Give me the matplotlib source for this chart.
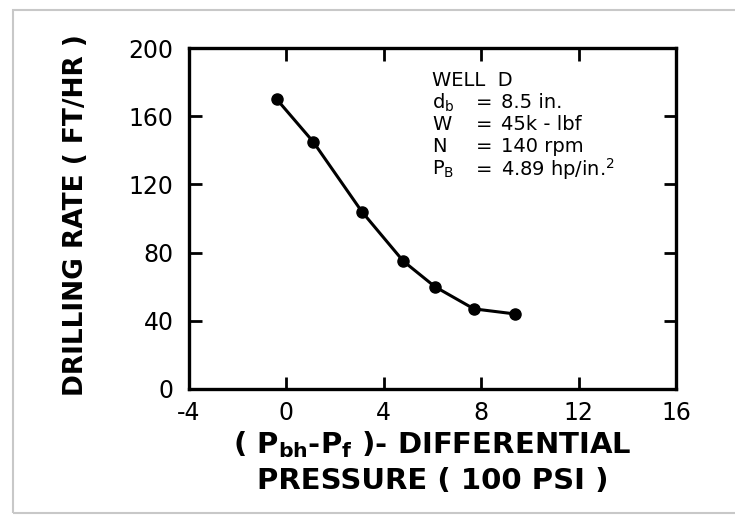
import matplotlib.pyplot as plt
from matplotlib.patches import Rectangle

# Data
pressure_diff = [-0.4, 1.1, 3.1, 4.8, 6.1, 7.7, 9.4]     # (Pbh - Pf), 100 psi
drilling_rate = [170, 145, 104, 75, 60, 47, 44]           # ft/hr
x_ticks = [-4, 0, 4, 8, 12, 16]
y_ticks = [0, 40, 80, 120, 160, 200]
info_names = ['WELL  D', r'd$_\mathregular{b}$', 'W', 'N', r'P$_\mathregular{B}$']
info_values = ['', '8.5 in.', '45k - lbf', '140 rpm',
               r'4.89 hp/in.$^\mathregular{2}$']

plt.rcParams['font.family'] = ['DejaVu Sans']

fig = plt.figure(figsize=(7.35, 5.16), dpi=100)
fig.patch.set_facecolor('white')

# faint page border of the scan
fig.patches.append(Rectangle((13 / 735, 3 / 516), 0.99, 1 - 13 / 516,
                             transform=fig.transFigure, fill=False,
                             edgecolor='#c8c8c8', linewidth=1.5))

ax = fig.add_axes([189 / 735, 127 / 516, 487 / 735, 341 / 516])
ax.plot(pressure_diff, drilling_rate, '-o', color='black', lw=2.2,
        markersize=8)

ax.set_xlim(-4, 16)
ax.set_ylim(0, 200)
ax.set_xticks(x_ticks)
ax.set_xticklabels([str(t) for t in x_ticks])
ax.set_yticks(y_ticks)
ax.tick_params(direction='in', length=9, width=2, labelsize=17,
               top=True, right=True)
ax.tick_params(axis='y', pad=11)
ax.tick_params(axis='x', pad=9)
for s in ax.spines.values():
    s.set_linewidth(2.4)

ax.set_ylabel('DRILLING RATE ( FT/HR )', fontsize=19, fontweight='bold')
ax.yaxis.set_label_coords(-0.205, 0.51)
ax.set_xlabel(r'( P$_\mathregular{bh}$-P$_\mathregular{f}$ )- DIFFERENTIAL'
              '\nPRESSURE ( 100 PSI )', fontsize=21, fontweight='bold',
              linespacing=1.3)
ax.xaxis.set_label_coords(0.5, -0.118)

for i, (name, value) in enumerate(zip(info_names, info_values)):
    y = 0.905 - i * 0.065
    ax.text(0.50, y, name, transform=ax.transAxes, fontsize=14,
            ha='left', va='center')
    if value:
        ax.text(0.605, y, '=', transform=ax.transAxes, fontsize=14,
                ha='center', va='center')
        ax.text(0.64, y, value, transform=ax.transAxes, fontsize=14,
                ha='left', va='center')

fig.savefig('out.png', dpi=100, facecolor='white')
